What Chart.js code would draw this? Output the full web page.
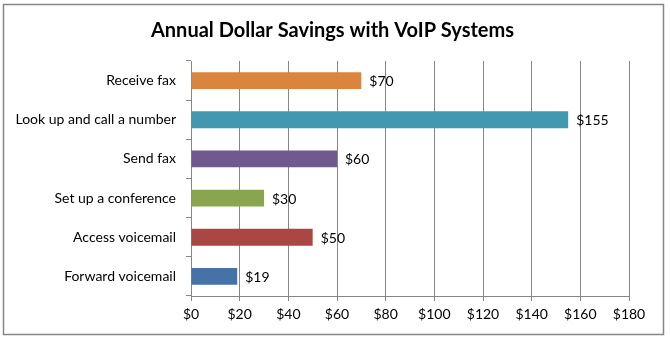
<!DOCTYPE html>
<html>
<head>
<meta charset="utf-8">
<script src="https://cdn.jsdelivr.net/npm/chart.js@4"></script>
<style>
  html, body { margin: 0; padding: 0; background: #fff; }
  #wrap { width: 670px; height: 342px; }
</style>
</head>
<body>
<div id="wrap"><canvas id="grafico" width="670" height="342"></canvas></div>
<script>
// dados do gráfico
const categorias = ['Receive fax', 'Look up and call a number', 'Send fax', 'Set up a conference', 'Access voicemail', 'Forward voicemail']
const economia = [70, 155, 60, 30, 50, 19]
const cores = ['#DB843D', '#4198AF', '#71588F', '#89A54E', '#AA4643', '#4572A7']
const eixoMin = 0
const eixoMax = 180
const eixoPasso = 20

const fonte = 'Lato, "Open Sans", sans-serif'
const cinza = '#868686'

// rótulos de valor à direita de cada barra
const rotulosValor = {
    id: 'rotulosValor',
    afterDatasetsDraw(chart) {
        const c = chart.ctx
        const meta = chart.getDatasetMeta(0)
        c.save()
        c.font = '14px ' + fonte
        c.fillStyle = '#000'
        c.textBaseline = 'middle'
        c.textAlign = 'left'
        meta.data.forEach((barra, i) => {
            c.fillText('$' + economia[i], barra.x + 8, barra.y + 1)
        })
        c.restore()
    }
}

// moldura externa + centralizar o título como no original
const moldura = {
    id: 'moldura',
    afterLayout(chart) {
        if (chart.titleBlock) chart.titleBlock.left = 36
    },
    afterDraw(chart) {
        const c = chart.ctx
        c.save()
        c.strokeStyle = cinza
        c.lineWidth = 1.5
        c.strokeRect(3.5, 4.5, 660, 330)
        c.restore()
    }
}

const ctx = document.getElementById('grafico').getContext('2d')
new Chart(ctx, {
    type: 'bar',
    data: {
        labels: categorias,
        datasets: [{
            data: economia,
            backgroundColor: cores,
            borderWidth: 0,
            barPercentage: 0.43,
            categoryPercentage: 1
        }]
    },
    options: {
        indexAxis: 'y',
        responsive: false,
        animation: false,
        layout: { padding: { left: 0, right: 41, top: 0, bottom: 6 } },
        plugins: {
            legend: { display: false },
            tooltip: { enabled: false },
            title: {
                display: true,
                text: 'Annual Dollar Savings with VoIP Systems',
                color: '#000',
                font: { family: fonte, size: 20, weight: 'bold' },
                padding: { top: 19, bottom: 18 }
            }
        },
        scales: {
            x: {
                min: eixoMin,
                max: eixoMax,
                afterFit: s => { s.height = 40 },
                ticks: {
                    stepSize: eixoPasso,
                    color: '#000',
                    font: { family: fonte, size: 14 },
                    padding: 5,
                    callback: v => '$' + v
                },
                grid: { color: cinza, lineWidth: 1, tickLength: 5 },
                border: { color: cinza, width: 1 }
            },
            y: {
                afterFit: s => { s.width = 191 },
                ticks: {
                    color: '#000',
                    font: { family: fonte, size: 14 },
                    padding: 10
                },
                grid: { drawOnChartArea: false, color: cinza, tickLength: 5, offset: true },
                border: { color: cinza, width: 1 }
            }
        }
    },
    plugins: [rotulosValor, moldura]
})
</script>
</body>
</html>
